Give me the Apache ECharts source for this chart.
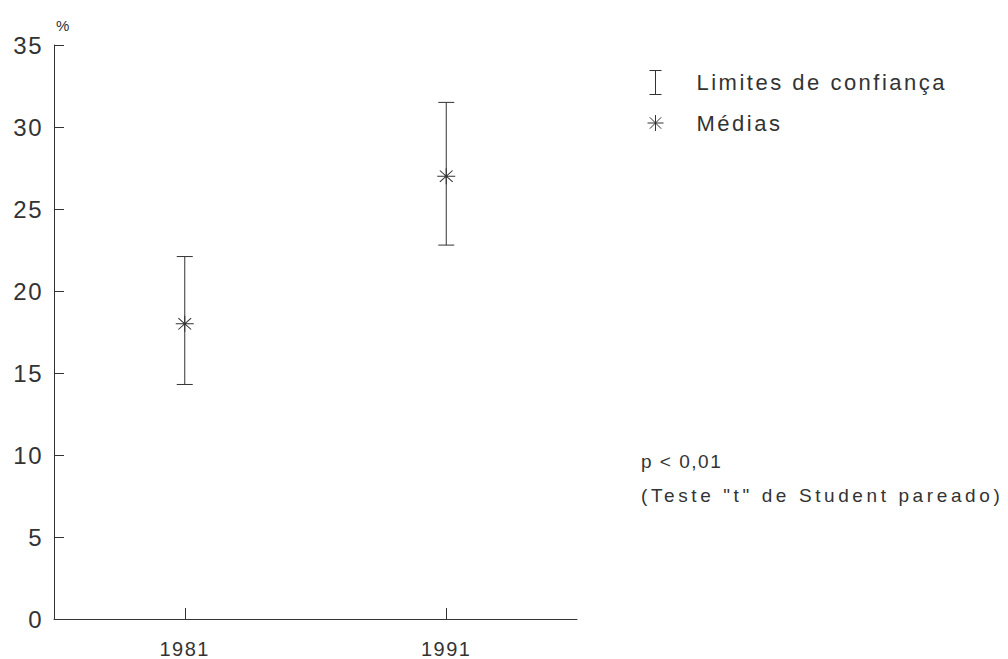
<!DOCTYPE html>
<html>
<head>
<meta charset="utf-8">
<script src="https://cdn.jsdelivr.net/npm/echarts@6/dist/echarts.min.js"></script>
<style>
  html, body { margin: 0; padding: 0; background: #fff; }
  #chart { width: 1008px; height: 659px; }
</style>
</head>
<body>
<div id="chart"></div>
<script>
// ---- data ----
const years = [1981, 1991];
const means = [18.0, 27.0];
const lowerLimits = [14.3, 22.8];
const upperLimits = [22.1, 31.5];
const yTicks = [0, 5, 10, 15, 20, 25, 30, 35];
const legendNames = ['Limites de confiança', 'Médias'];
const noteLines = ['p < 0,01', '(Teste "t" de Student pareado)'];

const INK = '#333';
const FONT = '"Liberation Sans", Arial, sans-serif';
const ibarPath = 'path://M0,0L12,0M6,0L6,24M0,24L12,24';
const starPath = 'path://M0,9L18,9M9,0L9,18M2.6,2.6L15.4,15.4M15.4,2.6L2.6,15.4';

const errData = years.map((y, i) => [y, lowerLimits[i], upperLimits[i]]);
const meanData = years.map((y, i) => [y, means[i]]);

const chart = echarts.init(document.getElementById('chart'), null, { renderer: 'svg' });

chart.setOption({
  animation: false,
  backgroundColor: '#fff',
  grid: { left: 54, right: 431, top: 45, bottom: 37, containLabel: false },
  legend: {
    orient: 'vertical',
    left: 647,
    top: 70,
    padding: 0,
    itemWidth: 16,
    itemHeight: 24,
    itemGap: 17,
    selectedMode: false,
    textStyle: { fontFamily: FONT, fontSize: 22, color: INK, padding: [0, 0, 0, 28] },
    data: [
      { name: legendNames[0], icon: ibarPath,
        itemStyle: { color: 'transparent', borderColor: INK, borderWidth: 1 } },
      { name: legendNames[1], icon: starPath,
        itemStyle: { color: 'transparent', borderColor: INK, borderWidth: 1 } }
    ]
  },
  xAxis: {
    type: 'value',
    min: 1976,
    max: 1996,
    axisLine: { show: true, lineStyle: { color: INK, width: 1 } },
    axisTick: { show: true, inside: true, length: 11, customValues: years,
                lineStyle: { color: INK, width: 1 } },
    axisLabel: { customValues: years, margin: 20, fontFamily: FONT, fontSize: 20,
                 color: INK, formatter: v => String(v) },
    splitLine: { show: false }
  },
  yAxis: {
    type: 'value',
    min: 0,
    max: 35,
    interval: 5,
    name: '%',
    nameLocation: 'end',
    nameGap: 12,
    nameTextStyle: { fontFamily: FONT, fontSize: 15, color: INK, align: 'left', padding: [0, 0, 0, 2] },
    axisLine: { show: true, lineStyle: { color: INK, width: 1 } },
    axisTick: { show: true, inside: true, length: 10, lineStyle: { color: INK, width: 1 } },
    axisLabel: { margin: 11, fontFamily: FONT, fontSize: 24, color: INK,
                 customValues: yTicks, formatter: v => String(v) },
    splitLine: { show: false }
  },
  series: [
    {
      name: legendNames[0],
      type: 'custom',
      data: errData,
      encode: { x: 0, y: [1, 2] },
      itemStyle: { color: INK },
      renderItem: function (params, api) {
        const x = api.value(0);
        const lo = api.coord([x, api.value(1)]);
        const hi = api.coord([x, api.value(2)]);
        const hw = 8;
        const st = { stroke: INK, lineWidth: 1 };
        return {
          type: 'group',
          children: [
            { type: 'line', shape: { x1: lo[0], y1: lo[1], x2: hi[0], y2: hi[1] }, style: st },
            { type: 'line', shape: { x1: hi[0] - hw, y1: hi[1], x2: hi[0] + hw, y2: hi[1] }, style: st },
            { type: 'line', shape: { x1: lo[0] - hw, y1: lo[1], x2: lo[0] + hw, y2: lo[1] }, style: st }
          ]
        };
      },
      z: 2
    },
    {
      name: legendNames[1],
      type: 'scatter',
      data: meanData,
      symbol: starPath,
      symbolSize: [18, 16],
      itemStyle: { color: 'transparent', borderColor: INK, borderWidth: 1, opacity: 1 },
      z: 3
    }
  ],
  graphic: [
    { type: 'text', left: 641, top: 452,
      style: { text: noteLines[0], font: '19px ' + FONT, fill: INK } },
    { type: 'text', left: 641, top: 486,
      style: { text: noteLines[1], font: '19px ' + FONT, fill: INK } }
  ]
});

function applySpacing() {
  const texts = document.querySelectorAll('#chart svg text');
  texts.forEach(t => {
    const s = t.textContent || '';
    let ls = '1.5px';
    if (s.indexOf('Limites') >= 0 || s.indexOf('Médias') >= 0) ls = '2.5px';
    else if (s.indexOf('Teste') >= 0) ls = '3.6px';
    else if (s.indexOf('0,01') >= 0) ls = '1.5px';
    else if (s === '%') ls = '0px';
    t.style.letterSpacing = ls;
  });
}
chart.on('finished', applySpacing);
applySpacing();
setTimeout(applySpacing, 50);
</script>
</body>
</html>
